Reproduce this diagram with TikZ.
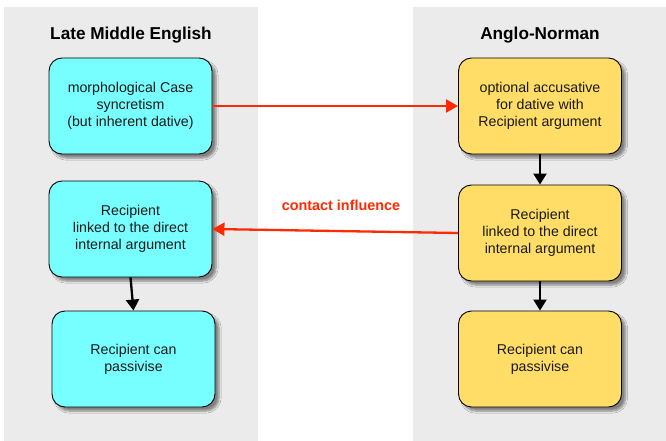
\documentclass[tikz,border=0pt]{standalone}
\usepackage{fontspec}
\setmainfont{Liberation Sans}
\usetikzlibrary{arrows.meta,shadows.blur}
\definecolor{panelgray}{HTML}{EBEBEB}
\definecolor{cyanbox}{HTML}{77FFFF}
\definecolor{yellowbox}{HTML}{FFDD66}
\definecolor{redarrow}{HTML}{FF2A00}
\begin{document}
\begin{tikzpicture}[x=1pt,y=-1pt,
  box/.style={draw=black, line width=0.9pt, rounded corners=13pt,
    minimum width=163pt, minimum height=96pt, align=center,
    font=\fontsize{14.2}{17}\selectfont, text=black!90,
    blur shadow={shadow xshift=4pt, shadow yshift=-4pt, shadow blur steps=6, shadow opacity=45}},
  lme/.style={box, fill=cyanbox},
  an/.style={box, fill=yellowbox},
  title/.style={font=\fontsize{17.2}{20}\bfseries\selectfont},
  blk/.style={draw=black, line width=2.3pt, -{Triangle[length=11pt,width=13pt]}},
  red/.style={draw=redarrow, line width=2.3pt, -{Triangle[length=12pt,width=13pt]}}
]
\useasboundingbox (0,0) rectangle (666,441);
\fill[white] (0,0) rectangle (666,441);
\fill[panelgray] (4,7) rectangle (258,441);
\fill[panelgray] (413,7) rectangle (666,441);

\node[title] (t1) at (131,35) {Late Middle English};
\node[title] (t2) at (540,35) {Anglo-Norman};

\node[lme] (l1) at (130.5,106) {morphological Case\\syncretism\\(but inherent dative)};
\node[lme] (l2) at (130.5,229) {Recipient\\linked to the direct\\internal argument};
\node[lme] (l3) at (133.5,359) {Recipient can\\passivise};

\node[an] (r1) at (540,106) {optional accusative\\for dative with\\Recipient argument};
\node[an] (r2) at (540,233) {Recipient\\linked to the direct\\internal argument};
\node[an] (r3) at (540,359) {Recipient can\\passivise};

\draw[red] (l1.east) -- (r1.west);
\draw[red] (r2.west) -- (l2.east);
\node[text=redarrow, font=\fontsize{14.4}{17}\bfseries\selectfont] (ci) at (341,205) {contact influence};

\draw[blk] (l2.south) -- (l3.north);
\draw[blk] (r1.south) -- (r2.north);
\draw[blk] (r2.south) -- (r3.north);
\end{tikzpicture}
\end{document}
